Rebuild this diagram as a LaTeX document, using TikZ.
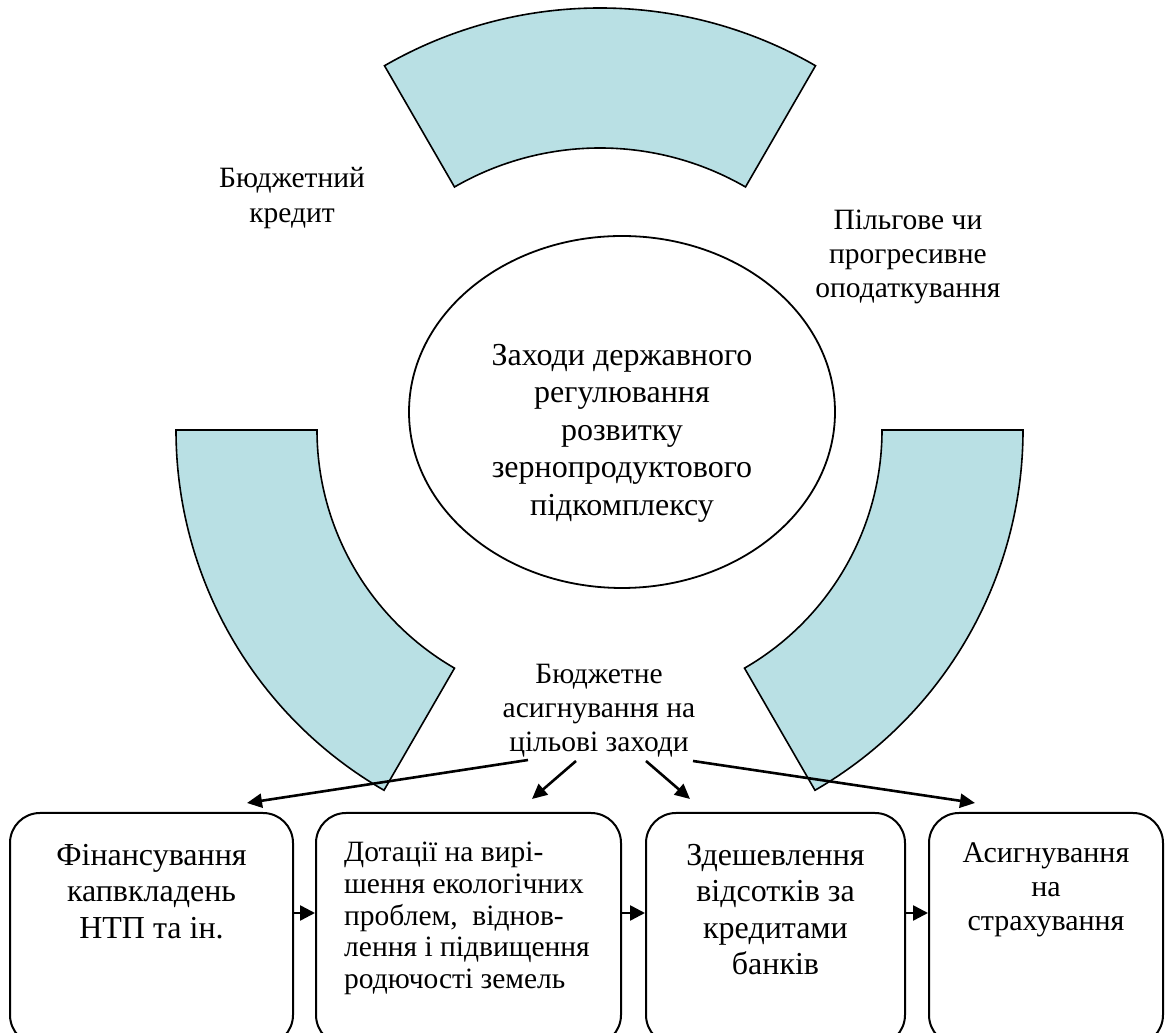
\documentclass[tikz,border=0pt]{standalone}
\usepackage{fontspec}
\setmainfont{Liberation Serif}
\usetikzlibrary{arrows.meta,calc,shapes.geometric}
\definecolor{sectorfill}{RGB}{185,224,228}
\begin{document}
\begin{tikzpicture}[x=1pt,y=1pt,
  sector/.style={draw=black, line width=1.6pt, fill=sectorfill, line join=miter},
  oval/.style={draw=black, line width=1.8pt, ellipse, inner sep=0pt},
  ovaltext/.style={align=center, inner sep=0pt, font=\fontsize{32pt}{37.5pt}\selectfont},
  lbltext/.style={align=center, inner sep=0pt, font=\fontsize{29.5pt}{34pt}\selectfont},
  boxstyle/.style={draw=black, line width=2pt, rounded corners=30pt, minimum height=232pt, inner sep=0pt},
  boxtext/.style={align=center, inner sep=0pt, font=\fontsize{32pt}{36.5pt}\selectfont},
  boxtextdense/.style={align=left, inner sep=0pt, font=\fontsize{29.5pt}{31.7pt}\selectfont},
  boxtextsmall/.style={align=center, inner sep=0pt, font=\fontsize{30pt}{34pt}\selectfont},
  darr/.style={line width=2.6pt, -{Triangle[length=15pt,width=14pt]}},
  harr/.style={line width=2.5pt, -{Triangle[length=15pt,width=15pt]}}
]
\useasboundingbox (0,0) rectangle (1171,1033);
\clip (0,0) rectangle (1171,1033);

% sectors
\draw[sector] ([shift={(60:431)}]600,594) arc[start angle=60,end angle=120,radius=431]
  -- ([shift={(120:291)}]600,594) arc[start angle=120,end angle=60,radius=291] -- cycle;
\draw[sector] ([shift={(180:416)}]592,603) arc[start angle=180,end angle=240,radius=416]
  -- ([shift={(240:275)}]592,603) arc[start angle=240,end angle=180,radius=275] -- cycle;
\draw[sector] ([shift={(0:416)}]607,603) arc[start angle=0,end angle=-60,radius=416]
  -- ([shift={(-60:275)}]607,603) arc[start angle=-60,end angle=0,radius=275] -- cycle;

% central ellipse
\node[oval, minimum width=426pt, minimum height=352pt] (ell) at (622,621) {};
\node[ovaltext] (elltxt) at (622,600) {Заходи державного\\регулювання\\розвитку\\зернопродуктового\\підкомплексу};

% labels
\node[lbltext, font=\fontsize{29.5pt}{35pt}\selectfont] (credit) at (292,835) {Бюджетний\\кредит};
\node[lbltext] (tax) at (908,776) {Пільгове чи\\прогресивне\\оподаткування};
\node[lbltext] (budget) at (599,322) {Бюджетне\\асигнування на\\цільові заходи};

% boxes
\node[boxstyle, minimum width=283pt] (b1) at (151.5,104) {};
\node[boxstyle, minimum width=305pt] (b2) at (468.5,104) {};
\node[boxstyle, minimum width=259pt] (b3) at (775.5,104) {};
\node[boxstyle, minimum width=234pt] (b4) at (1046,104) {};

\node[boxtext, anchor=north] (t1) at ([yshift=-32pt]b1.north) {Фінансування\\капвкладень\\НТП та ін.};
\node[boxtextdense, anchor=north west] (t2) at ([xshift=29pt,yshift=-30pt]b2.north west) {Дотації на вирі-\\шення екологічних\\проблем,\ \ віднов-\\лення і підвищення\\родючості земель};
\node[boxtext, anchor=north] (t3) at ([yshift=-32pt]b3.north) {Здешевлення\\відсотків за\\кредитами\\банків};
\node[boxtextsmall, anchor=north] (t4) at ([yshift=-31pt]b4.north) {Асигнування\\на\\страхування};

% horizontal arrows between boxes
\coordinate (hy) at (0,120);
\draw[harr] (b1.east |- hy) -- (b2.west |- hy);
\draw[harr] (b2.east |- hy) -- (b3.west |- hy);
\draw[harr] (b3.east |- hy) -- (b4.west |- hy);

% arrows from budget label
\draw[darr] ($(budget.center)+(-71,-49)$) -- ($(b1.north)+(95.5,9)$);
\draw[darr] ($(budget.center)+(-23,-50)$) -- ($(b2.north)+(63.5,13)$);
\draw[darr] ($(budget.center)+(47,-50)$) -- ($(b3.north)+(-85.5,13)$);
\draw[darr] ($(budget.center)+(94,-50)$) -- ($(b4.north)+(-71,9)$);
\end{tikzpicture}
\end{document}
